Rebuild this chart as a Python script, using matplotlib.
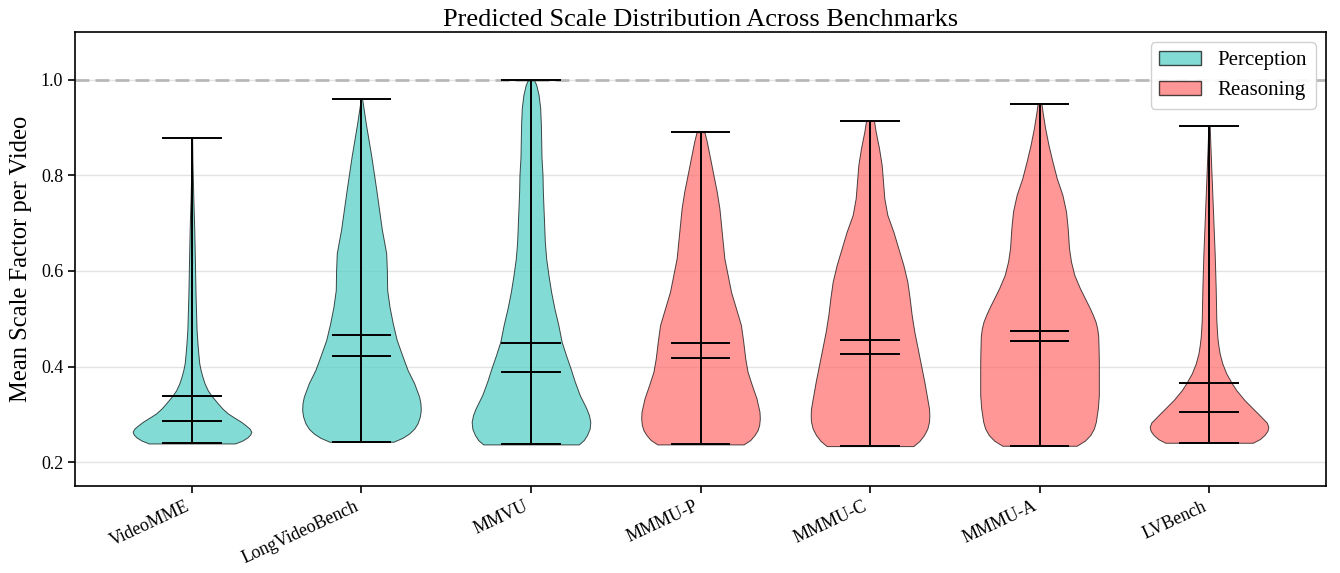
import matplotlib
matplotlib.use("Agg")
import matplotlib.pyplot as plt
from matplotlib.patches import Patch
import numpy as np

plt.rcParams['font.family'] = ['Liberation Serif', 'DejaVu Serif']

benchmarks = ["VideoMME", "LongVideoBench", "MMVU", "MMMU-P", "MMMU-C", "MMMU-A", "LVBench"]
groups = ["Perception", "Perception", "Perception", "Reasoning", "Reasoning", "Reasoning", "Reasoning"]

means = [0.338, 0.467, 0.449, 0.450, 0.455, 0.475, 0.365]
medians = [0.285, 0.423, 0.388, 0.417, 0.4255, 0.4534, 0.304]
mins = [0.239, 0.2426, 0.237, 0.237, 0.2335, 0.2342, 0.2405]
maxs = [0.878, 0.960, 0.9986, 0.8904, 0.9141, 0.9497, 0.9023]

# density profiles (y value, relative half-width)
videomme_y = [0.239, 0.245, 0.252, 0.258, 0.2635, 0.270, 0.277, 0.2845, 0.293, 0.302,
              0.312, 0.323, 0.338, 0.350, 0.365, 0.380, 0.393, 0.407, 0.421, 0.445,
              0.476, 0.546, 0.616, 0.686, 0.756, 0.826, 0.878]
videomme_w = [130, 152, 168, 176, 179, 174, 162, 148, 128, 108, 92, 78, 60, 48, 38, 31,
              26, 22, 20, 17, 14, 11, 9, 7, 4, 1.5, 0.5]

longvideo_y = [0.2426, 0.251, 0.2600, 0.270, 0.2810, 0.295, 0.3089, 0.323, 0.3368, 0.3648,
               0.3927, 0.4206, 0.4555, 0.4904, 0.5253, 0.5602, 0.6021, 0.6370, 0.660,
               0.6859, 0.7696, 0.8394, 0.9093, 0.9602]
longvideo_w = [97, 125, 145, 160, 170, 177, 180, 179, 175, 160, 140, 125, 107, 95, 85, 78,
               77, 75, 69, 62, 45, 30, 13, 2]

mmvu_y = [0.2370, 0.246, 0.2565, 0.270, 0.2845, 0.298, 0.3124, 0.3403, 0.3682, 0.3962,
          0.4241, 0.4520, 0.4869, 0.5218, 0.5567, 0.5916, 0.6265, 0.6614, 0.6963, 0.7312,
          0.7661, 0.8010, 0.8360, 0.8709, 0.9058, 0.9407, 0.9686, 0.9895, 0.9986]
mmvu_w = [145, 160, 170, 178, 180, 176, 168, 148, 133, 120, 106, 93, 83, 71, 61, 53, 46,
          42, 40, 38, 36, 35, 32, 31, 30, 28, 23, 16, 10]

mmmup_y = [0.2370, 0.246, 0.2565, 0.2665, 0.2775, 0.291, 0.3054, 0.3333, 0.3613, 0.3892,
           0.4171, 0.4520, 0.4869, 0.5218, 0.5567, 0.5916, 0.6265, 0.6614, 0.6963, 0.7312,
           0.7661, 0.8010, 0.8360, 0.8709, 0.8904]
mmmup_w = [130, 150, 163, 172, 177, 179, 178, 169, 155, 142, 135, 129, 122, 107, 92, 82,
           72, 67, 62, 57, 49, 39, 29, 19, 12]

mmmuc_y = [0.2335, 0.244, 0.2565, 0.270, 0.2845, 0.298, 0.3124, 0.3403, 0.3682, 0.4031,
           0.4380, 0.4729, 0.5079, 0.5428, 0.5777, 0.6126, 0.6475, 0.6824, 0.7173, 0.7522,
           0.7871, 0.8220, 0.8569, 0.8918, 0.9141]
mmmuc_w = [130, 148, 162, 172, 177, 178, 177, 170, 163, 153, 143, 133, 125, 119, 112, 100,
           85, 70, 52, 43, 39, 35, 27, 17, 12]

mmmua_y = [0.2342, 0.245, 0.2565, 0.270, 0.2845, 0.3124, 0.3403, 0.3752, 0.4101, 0.4450,
           0.465, 0.4799, 0.494, 0.5079, 0.5218, 0.5358, 0.5637, 0.5916, 0.6195, 0.6475,
           0.6894, 0.7243, 0.7592, 0.7941, 0.8290, 0.8639, 0.8988, 0.9337, 0.9497]
mmmua_w = [112, 137, 153, 164, 170, 176, 179, 179, 179, 178, 177, 174, 169, 161, 152, 142,
           122, 105, 95, 89, 85, 80, 69, 52, 39, 27, 17, 9, 6]

lvbench_y = [0.2405, 0.248, 0.2565, 0.265, 0.2740, 0.283, 0.2914, 0.300, 0.3089, 0.3298,
             0.3508, 0.3647, 0.3857, 0.4066, 0.4276, 0.445, 0.4625, 0.4974, 0.5672, 0.6370,
             0.7068, 0.7766, 0.8464, 0.9023]
lvbench_w = [132, 153, 167, 176, 179, 174, 162, 150, 137, 107, 82, 69, 52, 40, 32, 28, 25,
             22, 20, 17, 13, 9, 5, 2]

profiles_y = [videomme_y, longvideo_y, mmvu_y, mmmup_y, mmmuc_y, mmmua_y, lvbench_y]
profiles_w = [videomme_w, longvideo_w, mmvu_w, mmmup_w, mmmuc_w, mmmua_w, lvbench_w]

group_colors = {"Perception": "#4ECDC4", "Reasoning": "#FF6B6B"}

vpstats = []
for i in range(len(benchmarks)):
    vpstats.append({
        "coords": np.array(profiles_y[i]),
        "vals": np.array(profiles_w[i], dtype=float),
        "mean": means[i],
        "median": medians[i],
        "min": mins[i],
        "max": maxs[i],
    })

fig = plt.figure(figsize=(13.4, 5.73), dpi=100)
ax = fig.add_axes([75 / 1340, 1 - 486 / 573, 1251 / 1340, 454 / 573])

positions = np.arange(len(benchmarks))
parts = ax.violin(vpstats, positions=positions, widths=0.7,
                  showmeans=True, showextrema=True, showmedians=True)

for body, g in zip(parts['bodies'], groups):
    body.set_facecolor(group_colors[g])
    body.set_edgecolor('black')
    body.set_linewidth(0.7)
    body.set_alpha(0.7)

for key in ['cmeans', 'cmedians', 'cmins', 'cmaxes', 'cbars']:
    parts[key].set_color('black')
    parts[key].set_linewidth(1.4)

ax.set_yticks([0.2, 0.4, 0.6, 0.8, 1.0])
ax.yaxis.grid(True, color='#e3e3e3', linewidth=1.0, zorder=0)
ax.set_axisbelow(True)
ax.axhline(1.0, color='#b8b8b8', linestyle='--', linewidth=2.0, dashes=(5, 2.2), zorder=0.9)

ax.set_xlim(-0.69, 6.69)
ax.set_ylim(0.15, 1.1)
ax.set_xticks(positions)
ax.set_xticklabels(benchmarks, rotation=25, ha='right', fontsize=13)
ax.tick_params(axis='y', labelsize=13)
ax.tick_params(axis='both', length=5, width=1.2)

for sp in ax.spines.values():
    sp.set_linewidth(1.2)

ax.set_ylabel("Mean Scale Factor per Video", fontsize=17.7, labelpad=6)
ax.set_title("Predicted Scale Distribution Across Benchmarks", fontsize=19, pad=4)

handles = [Patch(facecolor=group_colors["Perception"], edgecolor='black', alpha=0.7, label="Perception"),
           Patch(facecolor=group_colors["Reasoning"], edgecolor='black', alpha=0.7, label="Reasoning")]
leg = ax.legend(handles=handles, loc='upper right', fontsize=15, framealpha=0.9)
leg.set_zorder(5)

fig.savefig("out.png", dpi=100)
